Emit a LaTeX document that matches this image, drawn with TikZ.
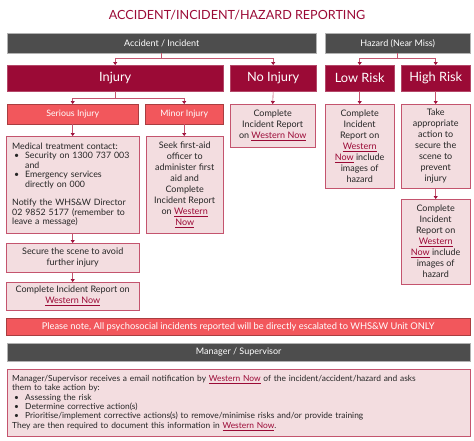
\documentclass[tikz,border=0pt]{standalone}
\usepackage{fontspec}
\setmainfont{Lato}
\usepackage{tikz}
\usetikzlibrary{arrows.meta}

\definecolor{crimson}{HTML}{9B0A36}
\definecolor{coral}{HTML}{F2575C}
\definecolor{blush}{HTML}{F3DDE0}
\definecolor{slate}{HTML}{4D4D4D}
\definecolor{rose}{HTML}{C4546E}
\definecolor{ink}{HTML}{262626}

\newcommand{\wn}[1]{{\color{crimson}\underline{#1}}}
\newcommand{\bul}{\hspace*{2pt}\makebox[11pt][l]{\textbullet}}

\tikzset{
  bar/.style={fill=slate, draw=gray!60, text=white, inner sep=0pt, anchor=north west,
    font=\fontsize{9}{10}\selectfont},
  head/.style={fill=crimson, draw=crimson!75!white, text=white, inner sep=0pt, anchor=north west,
    font=\fontsize{12.8}{14}\selectfont},
  sub/.style={fill=coral, draw=coral!70!black, text=white, inner sep=0pt, anchor=north west,
    font=\fontsize{8.8}{10}\selectfont},
  info/.style={fill=blush, draw=rose, text=ink, align=center, inner sep=0pt, anchor=north west,
    font=\fontsize{9}{11}\selectfont},
  link/.style={draw=rose, line width=0.6pt, -{Triangle[length=3pt,width=4pt,color=crimson]}}
}

\begin{document}
\begin{tikzpicture}[x=1pt,y=-1pt]
     \useasboundingbox (0,0) rectangle (474,440);
     \node[text=crimson, font=\fontsize{12.6}{14}\selectfont] (title) at (237,15) {ACCIDENT/INCIDENT/HAZARD REPORTING};
     % top bars
     \node[bar, minimum width=309pt, minimum height=20pt] (accbar) at (7,33) {Accident / Incident};
     \node[bar, minimum width=145pt, minimum height=20pt] (hazbar) at (325,33) {Hazard (Near Miss)};
     % headings
     \node[head, minimum width=216pt, minimum height=26pt] (injury) at (7,65) {Injury};
     \node[head, minimum width=86pt, minimum height=26pt] (noinjury) at (230,65) {No Injury};
     \node[head, minimum width=69pt, minimum height=26pt] (lowrisk) at (325,65) {Low Risk};
     \node[head, minimum width=69pt, minimum height=26pt] (highrisk) at (401,65) {High Risk};
     \node[sub, minimum width=131pt, minimum height=20pt] (serious) at (7,104) {Serious Injury};
     \node[sub, minimum width=78pt, minimum height=20pt] (minor) at (145,104) {Minor Injury};
     % actions
     \node[info, minimum width=85pt, minimum height=43pt] (noinjact) at (230,104) {Complete\\Incident Report\\on \wn{Western Now}};
     \node[info, minimum width=69pt, minimum height=84pt] (lowact) at (325,104) {Complete\\Incident\\Report on\\\wn{Western}\\\wn{Now} include\\images of\\hazard};
     \node[info, minimum width=69pt, minimum height=84pt] (highact) at (401,104) {Take\\appropriate\\action to\\secure the\\scene to\\prevent\\injury};
     \node[info, minimum width=69pt, minimum height=85pt] (highrep) at (401,199) {Complete\\Incident\\Report on\\\wn{Western}\\\wn{Now} include\\images of\\hazard};
     \node[info, align=left, text width=121pt, inner xsep=6pt, minimum height=97pt, font=\fontsize{8.8}{9.4}\selectfont] (seriousact) at (6,136)
          {Medical treatment contact:\\
           \bul Security on 1300 737 003\\
           \hspace*{13pt}and\\
           \bul Emergency services\\
           \hspace*{13pt}directly on 000\\[9.4pt]
           Notify the WHS\&W Director\\
           02 9852 5177 (remember to\\
           leave a message)};
     \node[info, minimum width=77pt, minimum height=97pt] (minoract) at (146,136) {Seek first-aid\\officer to\\administer first\\aid and\\Complete\\Incident Report\\on \wn{Western}\\\wn{Now}};
     \node[info, minimum width=133pt, minimum height=29pt] (secure) at (6,243) {Secure the scene to avoid\\further injury};
     \node[info, minimum width=133pt, minimum height=28pt] (seriousrep) at (6,282) {Complete Incident Report on\\\wn{Western Now}};
     % bottom
     \node[sub, minimum width=464pt, minimum height=17pt, font=\fontsize{9.3}{10}\selectfont] (notebar) at (6,318) {Please note, All psychosocial incidents reported will be directly escalated to WHS\&W Unit ONLY};
     \node[bar, minimum width=463pt, minimum height=18pt] (mgrbar) at (7,343) {Manager / Supervisor};
     \node[info, align=left, text width=453pt, inner xsep=5pt, minimum height=67pt, font=\fontsize{8.4}{9.4}\selectfont] (mgrtext) at (7,369)
          {Manager/Supervisor receives a email notification by \wn{Western Now} of the incident/accident/hazard and asks\\
           them to take action by:\\
           \bul Assessing the risk\\
           \bul Determine corrective action(s)\\
           \bul Prioritise/implement corrective actions(s) to remove/minimise risks and/or provide training\\
           They are then required to document this information in \wn{Western Now}.};
     % connectors
     \draw[link] (accbar.south) -- ++(0,5) coordinate (accsplit) -| (injury.north);
     \draw[link] (accsplit) -| (noinjury.north);
     \draw[link] (hazbar.south) -- ++(0,5) coordinate (hazsplit) -| (lowrisk.north);
     \draw[link] (hazsplit) -| (highrisk.north);
     \draw[link] (injury.south) -- ++(0,7) coordinate (injsplit) -| (serious.north);
     \draw[link] (injsplit) -| (minor.north);
     \draw[link] (noinjury.south) -- (noinjact.north);
     \draw[link] (lowrisk.south) -- (lowact.north);
     \draw[link] (highrisk.south) -- (highact.north);
     \draw[link] (highact.south) -- (highrep.north);
     \draw[link] (serious.south) -- (serious.south |- seriousact.north);
     \draw[link] (minor.south) -- (minor.south |- minoract.north);
     \draw[link] (seriousact.south) -- (seriousact.south |- secure.north);
     \draw[link] (secure.south) -- (seriousrep.north);
\end{tikzpicture}
\end{document}
